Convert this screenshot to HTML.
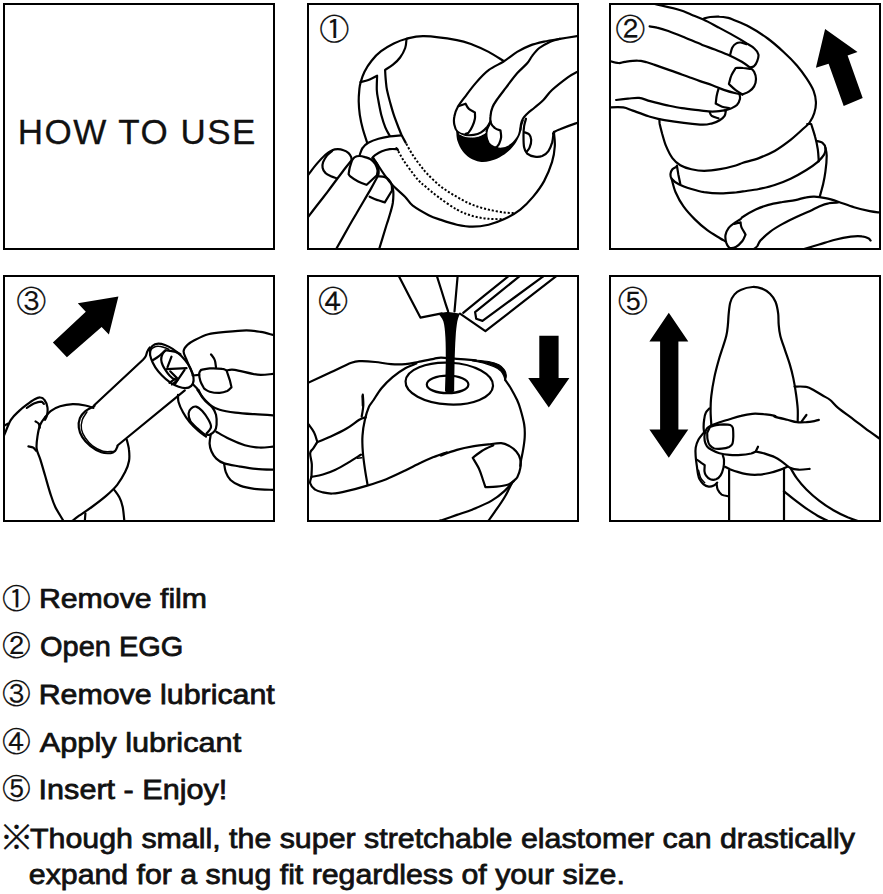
<!DOCTYPE html>
<html lang="en">
<head>
<meta charset="utf-8">
<title>HOW TO USE</title>
<style>
html,body{margin:0;padding:0;background:#fff;}
body{width:883px;height:894px;overflow:hidden;position:relative;}
svg{position:absolute;left:0;top:0;display:block;}
.t{font-family:"Liberation Sans","Noto Sans CJK JP",sans-serif;fill:#111;}
.l{font-size:28px;stroke:#111;stroke-width:0.75px;}
.n{font-family:"IPAGothic","Noto Sans CJK JP",sans-serif;fill:#111;stroke:#111;stroke-width:0.15px;}
.k{fill:none;stroke:#000;stroke-width:2.2;stroke-linecap:round;stroke-linejoin:round;}
.b{fill:#000;stroke:none;}
.d{font-size:29.7px;}
</style>
</head>
<body>
<svg width="883" height="894" viewBox="0 0 883 894">
<defs>
<clipPath id="c1"><rect x="309" y="5" width="268" height="243"/></clipPath>
<clipPath id="c2"><rect x="611" y="5" width="268" height="243"/></clipPath>
<clipPath id="c3"><rect x="5" y="277" width="268" height="243"/></clipPath>
<clipPath id="c4"><rect x="309" y="277" width="268" height="243"/></clipPath>
<clipPath id="c5"><rect x="611" y="277" width="268" height="243"/></clipPath>
</defs>
<rect width="883" height="894" fill="#fff"/>

<!-- panel 0 -->
<text class="t" x="17.8" y="143.7" font-size="35" textLength="237.6" lengthAdjust="spacing" style="stroke:#111;stroke-width:0.3px">HOW TO USE</text>

<!-- panel 1 -->
<g clip-path="url(#c1)" id="p1">
<text class="n d" x="319.4" y="40.2">①</text>
<path class="k" d="M503.6 61.0C501.1 59.5 493.7 54.6 488.6 51.9C483.4 49.2 478.0 46.8 472.7 44.8C467.4 42.8 465.0 41.5 456.9 40.1C448.7 38.6 432.3 36.3 423.9 36.1C415.5 35.9 411.5 37.5 406.5 38.8C401.5 40.0 398.0 41.5 393.8 43.5C389.6 45.6 384.8 48.3 381.1 51.2C377.4 54.0 374.4 57.2 371.6 60.7C368.8 64.1 366.3 68.1 364.5 71.8C362.6 75.5 361.4 79.8 360.5 82.9C359.6 85.9 359.6 86.9 359.3 90.0C359.0 93.1 358.6 97.2 358.7 101.3C358.8 105.5 359.2 110.4 359.8 114.9C360.5 119.4 361.4 123.9 362.7 128.5C363.9 133.1 366.4 140.3 367.2 142.7"/>
<path class="k" d="M406.5 38.8C406.3 40.3 406.3 44.9 405.2 48.0C404.1 51.1 402.2 54.7 400.1 57.5C398.1 60.3 395.5 62.6 393.0 64.6C390.5 66.7 386.4 69.0 385.1 69.9C385.2 71.8 385.5 77.9 385.9 81.3C386.2 84.6 386.3 86.7 387.0 90.0C387.7 93.3 388.7 97.2 389.8 101.3C391.0 105.5 392.3 110.4 393.8 114.9C395.3 119.4 397.6 125.1 398.9 128.5C400.2 131.9 400.6 132.9 401.7 135.3C402.9 137.7 405.0 141.4 405.7 142.7"/>
<path class="k" d="M360.5 82.1C361.8 81.7 365.6 81.1 368.4 80.0C371.2 78.9 375.7 76.4 377.1 75.7C377.1 78.1 376.6 85.7 376.8 90.0C377.0 94.3 377.8 97.2 378.5 101.3C379.3 105.5 380.2 110.6 381.3 114.9C382.5 119.3 383.9 123.9 385.3 127.4C386.7 130.9 389.1 134.5 389.8 135.9"/>
<path class="k" d="M401.2 135.3C399.3 135.5 393.6 135.9 389.8 136.4C386.1 137.0 382.1 137.7 378.5 138.7C374.9 139.7 371.0 141.2 368.3 142.7C365.7 144.2 364.1 145.8 362.7 147.8C361.2 149.7 360.3 153.4 359.8 154.6"/>
<path class="k" d="M397.2 149.1C396.0 149.1 392.4 148.8 389.8 149.1C387.3 149.5 384.4 150.2 381.9 151.2C379.4 152.2 376.7 154.0 375.1 155.1C373.5 156.3 372.7 157.5 372.3 158.0"/>
<path class="k" d="M396.4 148.1L398.0 150.2"/>
<path class="k" d="M406.3 143.8C407.3 145.6 410.3 151.2 412.5 154.6C414.7 158.0 416.8 161.0 419.3 164.2C421.7 167.4 423.6 170.1 427.2 173.8C430.8 177.5 436.1 182.8 441.0 186.6C445.9 190.5 451.6 193.9 456.9 196.9C462.1 200.0 467.4 202.7 472.7 204.9C478.0 207.0 483.3 208.3 488.6 209.6C493.9 210.9 499.9 211.9 504.4 212.5C508.9 213.1 513.7 213.0 515.5 213.1" stroke-dasharray="2.1 1.9" style="stroke-linecap:butt;stroke-width:2"/>
<path class="k" d="M398.3 151.2C399.2 152.7 401.4 157.1 403.4 160.2C405.4 163.3 407.8 166.5 410.2 169.8C412.7 173.1 415.6 177.2 418.1 180.0C420.7 182.8 422.2 183.8 425.5 186.6C428.8 189.4 433.0 193.1 438.2 196.9C443.4 200.8 451.1 206.4 456.9 209.6C462.6 212.8 467.4 214.4 472.7 216.0C478.0 217.5 483.3 218.3 488.6 218.8C493.9 219.3 501.8 219.1 504.4 219.1" stroke-dasharray="2.1 1.9" style="stroke-linecap:butt;stroke-width:2"/>
<path class="k" d="M373.0 157.7C373.7 158.8 375.6 161.6 377.5 164.4C379.4 167.3 381.8 171.2 384.3 174.6C386.7 178.0 388.7 181.1 392.2 184.8C395.7 188.5 401.6 193.3 405.0 196.7C408.4 200.2 408.9 202.6 412.8 205.7C416.8 208.7 424.0 212.8 428.7 215.2C433.4 217.5 436.3 218.3 441.0 219.9C445.7 221.5 451.6 223.5 456.9 224.7C462.1 225.8 467.4 226.7 472.7 226.7C478.0 226.7 483.3 225.9 488.6 224.7C493.9 223.4 499.1 221.6 504.4 219.1C509.7 216.6 515.5 213.3 520.3 209.6C525.0 205.9 529.0 201.7 533.0 196.9C536.9 192.2 540.9 186.9 544.1 181.1C547.2 175.3 550.2 167.9 552.0 162.1C553.8 156.2 554.5 151.2 554.8 146.2C555.2 141.2 554.0 134.3 553.9 131.9"/>
<path class="k" d="M553.1 133.6C553.4 133.3 553.5 132.5 554.6 131.8C555.8 131.0 556.4 130.7 560.0 129.3C563.6 127.8 572.6 124.4 576.4 123.1C580.1 121.7 581.6 121.5 582.7 121.1"/>
<path class="b" d="M456.2 131.1C456.4 132.8 456.4 137.8 457.5 141.1C458.5 144.4 460.4 148.3 462.5 151.1C464.5 153.9 467.0 156.2 469.9 157.9C472.8 159.7 476.6 161.1 479.9 161.7C483.2 162.2 486.5 161.8 489.9 161.0C493.2 160.3 496.7 159.0 499.8 157.3C502.9 155.6 505.9 153.6 508.6 151.1C511.2 148.6 514.1 145.3 516.0 142.4C518.0 139.4 519.3 136.5 520.4 133.6C521.4 130.7 521.5 127.4 522.3 124.9C523.0 122.4 524.3 119.7 524.7 118.7C524.2 119.3 522.5 121.0 521.6 122.4C520.8 123.9 520.5 125.1 519.8 127.4C519.0 129.7 518.7 133.4 517.3 136.1C515.8 138.8 513.3 141.7 511.0 143.6C508.8 145.5 505.9 146.7 503.6 147.3C501.2 148.0 498.2 147.5 497.1 147.6C496.4 147.4 494.4 147.5 493.0 146.7C491.6 145.9 489.7 144.7 488.6 143.0C487.5 141.2 486.7 137.9 486.4 136.1C486.0 134.4 486.4 133.2 486.4 132.6C485.3 133.2 482.4 135.1 479.9 135.9C477.4 136.6 474.1 137.2 471.2 137.1C468.3 137.0 464.9 136.3 462.5 135.3C460.0 134.3 457.3 131.8 456.2 131.1Z"/>
<path class="k" d="M583.7 35.3C582.6 35.4 581.3 35.5 577.4 36.1C573.4 36.7 565.5 37.9 559.9 38.8C554.4 39.7 549.1 40.5 544.1 41.6C539.0 42.8 534.3 43.9 529.8 45.6C525.3 47.3 521.5 49.3 517.1 51.9C512.7 54.6 508.4 58.4 503.6 61.5C498.9 64.5 493.2 66.6 488.6 70.2C483.9 73.7 479.8 78.4 475.9 82.9C471.9 87.4 467.9 93.0 464.8 97.1C461.7 101.2 459.2 104.3 457.5 107.5C455.7 110.7 454.9 113.3 454.4 116.2C453.8 119.1 453.8 122.3 454.4 124.9C454.9 127.5 455.7 130.1 457.5 131.8C459.2 133.4 462.2 134.4 464.9 134.9C467.6 135.4 471.0 135.3 473.7 134.9C476.4 134.5 478.9 133.7 481.1 132.4C483.4 131.0 485.8 128.7 487.4 126.8C488.9 124.9 490.0 122.1 490.5 121.2"/>
<path class="k" d="M459.0 106.0L465.6 103.7C466.1 104.6 467.1 107.3 468.7 108.7C470.2 110.2 473.9 111.8 474.9 112.5C474.9 113.5 475.3 116.4 474.9 118.7C474.5 121.0 473.5 123.9 472.4 126.2C471.4 128.4 469.8 131.1 468.7 132.4C467.5 133.7 466.1 133.6 465.6 133.9"/>
<path class="k" d="M559.9 38.8C558.1 39.4 552.2 40.9 548.8 42.4C545.4 44.0 542.1 45.7 539.3 48.0C536.5 50.2 534.1 53.4 532.2 55.9C530.2 58.4 529.9 60.1 527.4 63.0C524.9 65.9 520.7 69.3 517.1 73.3C513.5 77.4 509.4 83.2 506.0 87.6C502.6 92.1 499.0 96.7 496.7 100.0C494.4 103.3 493.4 104.8 492.4 107.5C491.3 110.2 490.7 113.6 490.5 116.2C490.2 118.8 490.1 121.1 490.9 123.0C491.6 125.0 493.2 126.8 494.8 128.0C496.4 129.3 499.5 130.1 500.5 130.5C500.6 131.7 501.3 135.2 501.1 137.4C500.9 139.6 499.9 142.0 499.2 143.6C498.5 145.2 497.1 146.5 496.7 147.1"/>
<path class="k" d="M490.5 122.4C489.9 123.6 487.8 127.0 487.1 129.3C486.4 131.6 486.1 133.8 486.4 136.1C486.6 138.4 487.5 141.2 488.6 143.0C489.7 144.7 491.6 145.9 493.0 146.7C494.4 147.5 496.4 147.4 497.1 147.6"/>
<path class="k" d="M583.7 67.8C582.6 68.5 580.0 70.2 577.4 71.8C574.7 73.3 572.1 74.3 567.8 77.3C563.6 80.4 556.1 86.2 552.0 90.0C547.9 93.8 546.3 97.1 543.4 100.0C540.6 102.9 537.4 105.2 534.7 107.5C532.0 109.8 529.2 111.8 527.2 113.7C525.3 115.6 523.9 116.9 522.9 118.7C521.8 120.5 521.4 122.4 521.0 124.3C520.6 126.2 520.5 129.0 520.4 129.9"/>
<path class="k" d="M526.0 118.7C525.7 119.9 524.5 123.3 524.1 126.2C523.7 129.1 523.5 132.6 523.5 136.1C523.5 139.7 523.5 144.4 524.1 147.3C524.7 150.2 525.5 152.0 527.2 153.6C529.0 155.1 532.2 156.3 534.7 156.7C537.2 157.1 539.9 157.0 542.2 156.1C544.5 155.1 546.8 153.4 548.4 151.1C550.1 148.8 551.3 145.3 552.2 142.4C553.0 139.4 553.2 135.1 553.4 133.6"/>
<path class="k" d="M524.7 132.4C525.5 132.7 528.0 133.0 529.1 134.3C530.2 135.5 531.1 137.7 531.2 139.9C531.3 142.0 530.5 145.4 529.7 147.3C529.0 149.3 527.1 151.0 526.6 151.7"/>
<path class="k" d="M459.3 133.9C460.3 134.3 462.6 135.8 464.9 136.4C467.3 136.9 471.0 137.3 473.7 137.1C476.4 136.9 479.2 135.9 481.1 135.1C483.1 134.4 484.8 133.1 485.5 132.6" style="stroke:#fff;stroke-width:0.9"/>
<path class="k" d="M302.7 182.0C303.7 180.8 306.1 177.6 308.4 174.6C310.7 171.7 313.5 167.7 316.3 164.4C319.2 161.1 322.7 157.2 325.4 154.8C328.0 152.5 330.1 151.2 332.2 150.3C334.3 149.3 336.0 149.2 337.8 149.2C339.7 149.2 341.7 149.6 343.5 150.3C345.3 150.9 347.3 152.0 348.6 153.1C349.9 154.3 350.7 155.9 351.2 157.1C351.7 158.3 351.4 159.9 351.4 160.5C350.3 161.9 346.9 166.0 344.6 169.0C342.4 171.9 340.7 174.3 337.8 178.0C335.0 181.8 331.2 186.9 327.7 191.6C324.1 196.3 319.5 202.2 316.3 206.3C313.1 210.5 310.7 213.6 308.4 216.5C306.1 219.5 303.7 222.7 302.7 223.9"/>
<path class="k" d="M336.9 178.3C336.0 177.9 333.0 177.2 331.0 176.3C329.1 175.4 326.8 174.4 325.4 172.9C324.0 171.5 322.9 169.6 322.6 167.8C322.2 166.0 322.4 164.3 323.1 162.2C323.9 160.1 325.6 157.3 327.1 155.4C328.6 153.5 331.3 151.6 332.2 150.9"/>
<path class="k" d="M352.0 160.5C352.5 159.9 353.6 157.8 354.8 157.1C356.1 156.3 357.7 156.0 359.4 156.0C361.1 156.0 363.1 156.5 365.0 157.1C366.9 157.7 369.0 158.2 370.7 159.3C372.4 160.5 374.1 162.1 375.2 163.9C376.3 165.7 377.2 168.2 377.5 170.1C377.8 172.0 377.0 174.4 376.9 175.2L366.7 184.8C365.3 184.3 361.0 182.8 358.2 181.4C355.5 180.0 351.9 177.6 350.3 176.3C348.7 175.1 348.9 174.4 348.6 174.1C348.8 173.0 349.2 170.1 349.7 167.8C350.3 165.6 351.6 161.7 352.0 160.5"/>
<path class="k" d="M372.6 158.4C373.2 159.1 375.2 160.8 376.1 162.4C377.1 164.0 377.9 166.0 378.3 167.8C378.7 169.7 378.7 172.0 378.6 173.5C378.5 175.0 377.7 176.1 377.5 176.7C376.5 178.4 374.1 183.1 371.8 187.1C369.6 191.1 366.5 196.2 363.9 200.7C361.2 205.2 358.3 210.2 356.0 214.3C353.6 218.3 353.3 218.8 349.7 225.0C346.2 231.3 337.2 247.2 334.7 251.6"/>
<path class="k" d="M378.6 176.3C379.6 176.4 382.6 176.3 384.3 176.9C386.0 177.5 387.6 178.4 388.8 179.7C390.0 181.1 391.1 183.0 391.6 184.8C392.2 186.6 391.9 189.5 392.0 190.5L384.8 202.4C383.6 202.0 380.0 201.1 377.5 200.1C374.9 199.2 370.9 197.3 369.6 196.7"/>
<path class="k" d="M392.0 184.8C392.2 186.0 393.2 188.6 393.3 191.6C393.5 194.6 393.3 199.2 392.8 203.0C392.2 206.7 391.0 210.6 389.9 214.3C388.9 218.0 388.5 218.8 386.5 225.0C384.6 231.3 379.7 247.2 378.4 251.6"/>
</g>
<!-- panel 2 -->
<g clip-path="url(#c2)" id="p2">
<text class="n d" x="615.5" y="40.1">②</text>
<path class="k" d="M647.1 2.0C648.6 2.4 651.1 3.0 656.6 4.4C662.0 5.7 673.9 8.3 679.6 10.0C685.4 11.7 687.0 12.9 691.0 14.5C694.9 16.1 698.8 17.5 703.4 19.6C708.0 21.8 713.5 24.8 718.5 27.4C723.4 30.0 728.5 32.7 733.2 35.4C737.9 38.0 743.3 41.2 746.7 43.4C750.2 45.5 752.2 46.4 754.1 48.3C756.1 50.1 757.9 52.3 758.4 54.4C758.9 56.6 757.9 59.3 757.2 61.2C756.5 63.2 755.4 65.1 754.1 66.1C752.9 67.2 750.5 67.2 749.8 67.4"/>
<path class="k" d="M704.0 18.5C705.0 18.2 707.7 17.3 710.2 17.0C712.8 16.7 716.3 16.4 719.3 16.6C722.3 16.7 725.9 17.4 728.3 17.9C730.8 18.5 730.3 18.5 733.8 20.0C737.3 21.5 743.6 23.7 749.2 26.8C754.8 29.8 761.9 34.2 767.7 38.5C773.4 42.7 778.8 47.5 783.6 52.0C788.5 56.5 793.1 61.1 796.9 65.4C800.7 69.8 803.6 73.9 806.4 78.1C809.2 82.3 812.0 86.8 813.6 90.8C815.1 94.8 815.8 98.2 815.9 101.9C816.1 105.6 815.4 109.6 814.3 113.0C813.3 116.4 811.3 120.0 809.6 122.5C807.9 125.0 807.2 125.2 804.0 128.0C800.9 130.9 795.5 136.0 790.6 139.9C785.7 143.7 780.0 147.9 774.7 151.0C769.4 154.0 764.1 156.1 758.9 158.1C753.6 160.1 746.8 161.6 743.0 162.8C739.2 164.1 739.7 164.5 735.8 165.5C732.0 166.6 725.3 168.3 720.0 169.2C714.7 170.1 708.9 170.8 704.1 170.8C699.4 170.8 695.4 170.1 691.4 169.2C687.5 168.3 683.5 167.1 680.3 165.2C677.2 163.4 674.8 161.3 672.4 158.1C670.0 154.9 667.8 150.3 666.1 146.2C664.4 142.1 663.2 137.2 662.1 133.5C661.1 129.8 660.2 126.4 659.7 124.0C659.3 121.6 659.5 120.0 659.4 119.2"/>
<path class="k" d="M649.6 26.4C650.9 26.6 653.9 26.8 657.0 27.6C660.1 28.3 663.6 29.3 668.3 31.0C673.0 32.7 679.6 35.4 685.3 37.7C691.0 40.1 697.4 42.9 702.3 44.9C707.2 46.8 710.1 47.7 714.8 49.5C719.4 51.3 725.6 53.6 730.1 55.7C734.6 57.7 738.5 59.9 741.8 61.8C745.1 63.8 748.5 66.4 749.8 67.4C750.5 68.1 753.1 69.7 754.1 71.7C755.1 73.6 756.0 76.6 756.0 79.0C756.0 81.5 755.2 84.4 754.1 86.4C753.0 88.5 751.1 90.0 749.2 91.3C747.3 92.7 743.6 93.9 742.4 94.4"/>
<path class="k" d="M730.1 55.1C730.5 53.8 731.2 49.6 732.2 47.7C733.3 45.7 734.9 44.2 736.3 43.4C737.7 42.5 738.8 42.4 740.6 42.5C742.3 42.7 745.7 43.9 746.7 44.2"/>
<path class="k" d="M750.4 68.8C749.2 68.7 745.5 68.1 743.1 68.0C740.6 67.8 736.9 68.0 735.7 68.0C735.0 69.2 732.5 72.7 731.4 75.4C730.2 78.0 729.3 82.5 728.9 84.0C730.0 85.0 733.4 88.4 735.7 90.1C737.9 91.9 741.3 93.7 742.4 94.4"/>
<path class="k" d="M607.4 60.3C609.3 60.8 615.6 62.8 618.5 63.0C621.4 63.3 621.7 62.3 624.9 61.9C628.0 61.5 633.9 60.6 637.5 60.7C641.2 60.7 643.9 61.6 646.8 62.3C649.7 63.0 651.5 63.8 654.7 64.9C657.9 66.0 662.3 67.6 666.0 68.9C669.8 70.2 673.6 71.5 677.4 72.9C681.1 74.2 684.9 75.7 688.7 77.0C692.5 78.4 696.1 79.8 700.0 81.1C704.0 82.5 708.2 83.7 712.3 85.2C716.4 86.7 720.7 88.8 724.6 90.1C728.5 91.4 732.7 92.5 735.7 93.2C738.6 93.9 741.3 94.2 742.4 94.4"/>
<path class="k" d="M739.4 93.8C739.5 94.6 740.4 96.9 740.0 98.7C739.6 100.6 738.4 103.2 736.9 104.9C735.4 106.5 732.8 107.6 730.8 108.6C728.7 109.5 725.6 110.1 724.6 110.4"/>
<path class="k" d="M718.5 88.9C718.1 90.1 717.1 93.8 716.6 96.3C716.2 98.7 715.9 102.4 715.7 103.6C716.8 104.2 719.8 105.9 722.1 106.7C724.4 107.5 728.3 108.0 729.5 108.3"/>
<path class="k" d="M616.1 100.0C618.1 99.8 624.2 99.1 628.0 98.7C631.9 98.4 635.4 97.5 639.1 97.9C642.8 98.3 645.7 99.9 650.2 101.1C654.7 102.3 660.8 103.9 666.1 105.1C671.4 106.2 676.3 107.3 681.9 108.2C687.6 109.1 694.9 109.8 700.0 110.4C705.1 111.0 708.2 111.6 712.3 111.6C716.4 111.6 722.6 110.6 724.6 110.4"/>
<path class="k" d="M709.8 112.3C710.1 112.9 710.3 114.9 711.7 115.9C713.1 117.0 717.3 118.0 718.5 118.4"/>
<path class="k" d="M725.8 111.0C725.6 111.8 725.6 114.4 724.6 115.9C723.6 117.5 721.7 119.0 719.7 120.2C717.6 121.5 715.6 122.6 712.3 123.3C709.0 124.0 708.0 125.1 700.0 124.6C692.0 124.0 673.1 121.5 664.5 120.1C655.9 118.7 653.9 117.7 648.6 116.2C643.4 114.6 637.0 112.1 632.8 110.6C628.6 109.2 627.5 108.0 623.3 107.4C619.0 106.9 610.1 107.4 607.4 107.4"/>
<path class="k" d="M676.9 165.5C677.1 167.1 677.9 171.7 678.4 174.7C679.0 177.8 680.0 182.4 680.3 183.9"/>
<path class="k" d="M676.4 166.8C675.7 167.2 673.4 168.0 672.4 169.2C671.4 170.4 670.6 172.4 670.5 173.9C670.4 175.5 670.3 177.0 671.6 178.7C673.0 180.4 675.5 182.5 678.8 184.2C682.1 186.0 687.2 187.7 691.4 189.0C695.7 190.3 699.4 191.4 704.1 192.2C708.9 192.9 714.7 193.4 720.0 193.4C725.3 193.5 732.0 192.8 735.8 192.5C739.7 192.2 739.2 192.0 743.0 191.4C746.8 190.8 753.6 190.1 758.9 189.0C764.1 187.9 769.4 186.8 774.7 185.0C780.0 183.3 785.3 181.2 790.6 178.7C795.9 176.2 801.9 172.8 806.4 170.0C810.9 167.2 814.6 164.6 817.5 162.1C820.4 159.5 822.5 157.3 823.9 154.9C825.2 152.5 825.7 149.8 825.4 147.8C825.2 145.7 823.6 143.8 822.3 142.7C821.0 141.6 818.3 141.4 817.5 141.1"/>
<path class="k" d="M807.2 124.0L811.2 124.0C811.8 126.1 814.0 132.5 815.1 136.7C816.3 140.9 817.2 145.3 817.8 149.4C818.4 153.5 818.6 159.3 818.8 161.3"/>
<path class="k" d="M671.6 178.7C672.3 180.9 673.6 187.6 675.6 192.2C677.6 196.8 680.3 202.0 683.5 206.4C686.7 210.9 690.7 215.2 694.6 219.1C698.6 223.1 703.1 227.1 707.3 230.2C711.5 233.4 717.1 236.4 720.0 238.2C722.9 240.0 723.9 240.5 724.7 241.0"/>
<path class="k" d="M825.4 147.8C825.7 149.1 826.7 151.7 826.7 155.7C826.7 159.7 826.1 166.8 825.4 171.6C824.8 176.3 824.0 180.2 823.1 184.2C822.1 188.3 820.4 194.2 819.9 196.1"/>
<path class="k" d="M879.4 212.5C877.8 212.3 874.1 212.1 869.8 211.2C865.6 210.3 859.3 208.8 854.0 207.2C848.7 205.7 842.9 203.2 838.1 201.7C833.4 200.2 829.4 199.0 825.4 198.2C821.5 197.4 817.5 196.8 814.3 196.6C811.2 196.5 809.6 196.7 806.4 197.3C803.2 197.8 799.3 199.3 795.3 200.1C791.4 200.9 787.1 201.2 782.6 202.0C778.1 202.8 772.9 203.6 768.4 204.9C763.9 206.1 759.9 207.6 755.7 209.6C751.5 211.6 745.5 215.2 743.0 216.8C740.5 218.3 742.1 218.1 740.6 219.1C739.1 220.2 736.2 221.6 734.3 223.1C732.3 224.5 730.2 225.9 728.7 227.9C727.3 229.8 725.9 232.5 725.5 235.0C725.1 237.5 725.7 240.8 726.3 242.9C727.0 245.0 727.9 247.0 729.5 247.7C731.1 248.3 733.7 247.9 735.8 246.9C738.0 245.8 740.6 243.3 742.2 241.3C743.8 239.3 744.8 236.0 745.4 235.0"/>
<path class="k" d="M734.3 223.9L740.6 222.3C740.7 223.1 740.6 225.1 741.4 227.1C742.2 229.0 744.7 233.0 745.4 234.2"/>
<path class="k" d="M838.1 202.5C836.5 202.6 831.8 202.6 828.6 203.3C825.4 203.9 822.3 205.1 819.1 206.4C815.9 207.8 813.3 209.5 809.6 211.2C805.9 212.9 801.4 214.6 796.9 216.8C792.4 218.9 787.1 221.4 782.6 223.9C778.1 226.4 773.7 229.0 770.0 231.8C766.3 234.6 762.6 238.2 760.4 240.5C758.3 242.9 758.6 244.5 757.3 246.1C755.9 247.7 753.3 249.4 752.5 250.0"/>
<path class="k" d="M803.2 249.3C805.9 248.5 813.8 246.1 819.1 244.5C824.4 242.9 829.7 241.1 835.0 239.7C840.2 238.4 846.3 237.2 850.8 236.6C855.3 236.0 859.0 236.0 861.9 236.3C864.8 236.5 866.8 237.4 868.3 238.2C869.7 238.9 870.2 240.1 870.6 240.5"/>
<path class="b" d="M825.1 29.0L857.5 51.9L847.6 55.6L862.7 97.9L843.7 105.9L828.6 63.8L815.9 67.8Z"/>
</g>
<!-- panel 3 -->
<g clip-path="url(#c3)" id="p3">
<text class="n d" x="16.4" y="311.8">③</text>
<path class="b" d="M118.4 296.5L77.8 303.3L85.8 311.7L52.9 342.5L66.9 357.2L101.6 327.1L108.9 334.6Z"/>
<path class="k" d="M45.0 417.4C45.9 416.3 48.1 412.9 50.6 411.1C53.1 409.2 56.4 407.4 60.1 406.3C63.8 405.2 68.5 404.4 72.8 404.2C77.0 404.1 82.0 404.9 85.4 405.5C88.9 406.1 92.1 407.5 93.4 407.9"/>
<path class="k" d="M126.7 439.6C127.1 441.3 128.7 446.3 129.0 449.9C129.4 453.5 129.7 457.3 129.0 461.0C128.4 464.7 127.1 468.1 125.1 472.1C123.1 476.1 120.3 480.8 117.2 484.8C114.0 488.8 110.3 492.2 106.1 495.9C101.8 499.6 96.3 503.7 91.8 507.0C87.3 510.3 82.3 513.5 79.1 515.7C75.9 518.0 74.3 519.3 72.8 520.5C71.2 521.7 70.1 522.4 69.6 522.8"/>
<path class="k" d="M45.0 417.4C44.2 418.6 41.5 421.5 40.3 424.5C39.0 427.6 38.2 431.7 37.6 435.6C37.0 439.6 36.2 444.4 36.6 448.3C37.1 452.3 38.9 454.9 40.3 459.4C41.7 463.9 43.3 469.5 45.0 475.3C46.7 481.1 48.8 489.0 50.6 494.3C52.3 499.6 53.2 502.6 55.3 507.0C57.4 511.3 61.7 517.8 63.2 520.5C64.8 523.1 64.6 522.4 64.8 522.8"/>
<path class="k" d="M1.4 442.0C1.9 440.7 3.0 437.8 4.6 434.1C6.2 430.4 8.5 423.6 10.9 419.8C13.3 416.0 16.2 413.6 18.9 411.1C21.5 408.6 24.1 406.7 26.8 404.7C29.4 402.7 32.5 400.4 34.7 399.2C37.0 397.9 38.6 397.1 40.3 397.3C41.9 397.4 43.4 398.3 44.5 400.0C45.7 401.6 47.0 404.6 47.4 407.1C47.8 409.6 47.5 412.9 47.1 415.0C46.7 417.1 45.4 419.0 45.0 419.8"/>
<path class="k" d="M26.8 407.9C28.0 407.2 31.5 404.6 33.9 403.6C36.3 402.6 39.4 401.7 41.1 401.7C42.7 401.8 43.4 403.6 43.9 403.9"/>
<path class="k" d="M35.5 421.4C36.0 421.8 38.0 422.7 38.7 423.7C39.4 424.8 39.6 427.0 39.8 427.7"/>
<path class="k" d="M28.4 446.4C29.2 446.6 31.9 446.8 33.1 447.5C34.4 448.2 35.5 450.2 36.0 450.7"/>
<path class="k" d="M3.8 425.8L7.8 423.7"/>
<path class="k" d="M94.2 405.2L143.0 359.7C143.5 359.2 145.0 357.6 145.7 356.2C146.5 354.8 146.7 352.7 147.4 351.3C148.1 349.8 149.4 348.1 149.8 347.5"/>
<path class="k" d="M117.5 445.5L184.8 390.4"/>
<path class="k" d="M94.6 405.8C93.1 406.7 87.9 409.0 85.4 411.1C83.0 413.1 81.0 415.4 79.9 418.2C78.8 421.0 78.4 424.5 78.8 427.7C79.2 430.9 80.4 434.2 82.3 437.2C84.2 440.3 87.0 443.4 90.2 445.9C93.4 448.5 97.9 451.1 101.3 452.3C104.7 453.5 108.5 453.3 110.8 453.1C113.1 452.8 114.1 451.8 115.3 450.7C116.4 449.6 117.1 447.1 117.5 446.4"/>
<path class="k" d="M87.0 411.9C86.2 413.2 83.2 416.9 82.3 419.8C81.4 422.7 81.0 426.3 81.5 429.3C82.0 432.3 83.6 435.2 85.4 438.0C87.3 440.8 89.7 443.8 92.6 445.9C95.5 448.1 99.6 450.3 102.9 451.2C106.2 452.1 110.8 451.4 112.4 451.5" style="stroke-width:1.4"/>
<path class="k" d="M114.0 489.5C114.9 490.9 118.1 494.6 119.5 497.5C121.0 500.4 121.9 503.2 122.7 507.0C123.5 510.8 124.0 517.8 124.3 520.5C124.6 523.1 124.4 522.4 124.4 522.8"/>
<path class="k" d="M85.4 513.3L84.7 522.8"/>
<ellipse class="k" cx="171.8" cy="365.9" rx="27.9" ry="13.7" transform="rotate(45.7 171.8 365.9)"/>
<path class="k" d="M150.1 355.0C150.2 354.2 150.2 351.5 150.8 350.2C151.4 348.9 152.6 347.8 153.9 347.2C155.2 346.5 156.9 346.2 158.6 346.3C160.3 346.3 162.4 347.0 164.1 347.5C165.8 348.0 168.0 348.9 168.8 349.2" style="stroke-width:1.6"/>
<path class="k" d="M152.5 360.4C153.5 359.7 156.5 358.0 158.6 356.3C160.8 354.7 164.3 351.4 165.4 350.4"/>
<path class="k" d="M180.4 354.3C179.6 353.9 177.3 352.5 175.6 351.9C173.9 351.4 171.9 351.1 170.2 350.9C168.5 350.7 166.7 350.0 165.4 350.6C164.1 351.1 163.1 352.8 162.4 354.3C161.7 355.8 161.1 357.9 161.2 359.7C161.3 361.6 162.0 363.7 162.8 365.5C163.6 367.4 164.8 369.1 166.0 370.8C167.1 372.5 168.5 374.3 169.8 375.7C171.2 377.1 172.7 378.4 173.9 379.1C175.1 379.8 176.5 379.7 177.0 379.9"/>
<path class="k" d="M171.5 356.7L167.5 367.2"/>
<path class="k" d="M166.8 369.1L186.5 368.2"/>
<path class="k" d="M170.2 371.3L177.0 378.1"/>
<path class="k" d="M184.6 369.8L174.9 384.2"/>
<path class="k" d="M169.5 382.8L174.9 378.8"/>
<path class="k" d="M171.9 384.5L177.3 380.3"/>
<path class="k" d="M192.9 374.9C192.4 373.6 191.0 370.1 189.8 367.4C188.7 364.7 187.1 361.4 186.1 358.7C185.0 356.0 183.4 353.5 183.6 351.2C183.8 348.9 185.5 346.8 187.3 345.0C189.2 343.1 191.3 341.8 194.8 340.0C198.3 338.2 203.2 335.6 208.3 334.2C213.5 332.9 219.4 332.5 225.8 331.9C232.1 331.2 240.6 330.3 246.4 330.3C252.2 330.3 256.2 331.1 260.7 331.9C265.2 332.7 270.2 334.2 273.4 335.0C276.5 335.8 278.6 336.4 279.7 336.6"/>
<path class="k" d="M211.0 354.3C211.6 355.2 213.9 357.7 214.7 359.9C215.6 362.1 215.8 366.1 216.0 367.4"/>
<path class="k" d="M201.0 369.9C202.5 369.6 206.2 368.6 209.7 368.4C213.3 368.2 219.4 368.5 222.2 368.9C225.0 369.2 225.8 370.2 226.6 370.5C227.1 372.1 228.8 377.0 229.7 379.8C230.5 382.7 231.2 386.1 231.5 387.3C230.8 387.9 229.2 390.1 227.2 391.1C225.2 392.0 222.6 392.8 219.7 392.9C216.8 393.0 212.3 392.4 209.7 391.7C207.1 391.0 205.1 389.1 204.1 388.6C203.5 387.3 201.2 383.6 200.4 381.1C199.6 378.6 199.1 375.5 199.2 373.6C199.3 371.7 200.7 370.5 201.0 369.9"/>
<path class="k" d="M226.6 370.5C227.9 370.4 229.5 369.2 234.7 369.9C239.8 370.6 251.0 374.0 257.5 374.7C263.9 375.3 269.7 374.1 273.4 373.9C277.1 373.7 278.6 373.6 279.7 373.6"/>
<path class="k" d="M192.6 375.5L199.2 374.9"/>
<path class="k" d="M192.9 384.2L197.3 388.8"/>
<path class="k" d="M198.5 389.8C199.2 391.1 200.4 394.8 202.3 397.3C204.1 399.8 206.8 402.7 209.7 404.8C212.7 406.8 215.5 408.4 219.7 409.7C224.0 411.1 229.5 411.9 235.3 412.6C241.1 413.4 248.0 413.8 254.3 414.2C260.7 414.7 269.1 415.1 273.4 415.3C277.6 415.6 278.6 415.6 279.7 415.7"/>
<path class="k" d="M178.0 394.8C178.1 396.0 177.8 399.4 178.6 402.3C179.4 405.2 181.1 408.9 183.0 412.2C184.8 415.6 187.2 419.1 189.8 422.2C192.4 425.3 195.8 428.5 198.5 430.9C201.2 433.3 204.8 435.6 206.0 436.5"/>
<path class="k" d="M197.3 389.8C198.5 391.5 202.3 396.9 204.8 399.8C207.3 402.7 210.4 404.8 212.2 407.3C214.1 409.7 215.2 411.8 216.0 414.7C216.7 417.6 216.8 422.0 216.6 424.7C216.4 427.4 215.9 429.3 214.7 430.9C213.6 432.6 211.1 434.0 209.7 434.7C208.4 435.3 207.1 434.7 206.6 434.7"/>
<path class="k" d="M204.8 434.7C203.5 433.6 199.7 430.7 197.3 428.4C194.9 426.1 191.9 423.4 190.4 421.0C189.0 418.5 188.5 415.6 188.6 413.5C188.7 411.4 189.8 409.6 191.1 408.5C192.3 407.4 194.2 406.2 196.0 406.6C197.9 407.0 200.2 408.8 202.3 411.0C204.3 413.2 207.0 417.0 208.5 419.7C210.0 422.4 211.3 424.9 211.0 427.2C210.7 429.5 207.4 432.4 206.6 433.4"/>
<path class="k" d="M216.3 431.7C218.4 432.9 224.2 436.6 229.0 438.8C233.7 441.1 239.8 443.7 244.8 445.2C249.8 446.6 254.3 447.3 259.1 447.5C263.8 447.8 269.9 446.9 273.4 446.7C276.8 446.5 278.6 446.3 279.7 446.3"/>
<path class="k" d="M210.7 434.8C210.5 436.3 209.5 440.8 209.6 443.6C209.7 446.3 210.4 449.0 211.5 451.5C212.6 454.0 214.2 456.6 216.3 458.6C218.4 460.6 220.2 462.1 224.2 463.4C228.2 464.7 234.8 465.6 240.1 466.6C245.3 467.5 250.4 468.4 255.9 468.9C261.5 469.5 269.4 469.6 273.4 469.7C277.3 469.9 278.6 469.9 279.7 469.9"/>
<path class="k" d="M224.2 464.2C224.5 465.5 224.7 469.5 225.8 472.1C226.8 474.7 228.2 477.8 230.5 480.0C232.9 482.3 236.1 484.1 240.1 485.6C244.0 487.0 248.8 488.0 254.3 488.8C259.9 489.5 269.1 489.7 273.4 489.9C277.6 490.1 278.6 490.0 279.7 490.0"/>
</g>
<!-- panel 4 -->
<g clip-path="url(#c4)" id="p4">
<text class="n d" x="318.3" y="312.1">④</text>
<path class="k" d="M397.7 274.0C397.9 274.4 395.2 269.1 399.0 276.4C402.7 283.6 416.8 310.7 420.4 317.6L441.8 313.3"/>
<path class="k" d="M436.2 274.0C436.4 274.4 435.4 271.4 437.0 276.4C438.6 281.4 443.9 298.3 445.7 304.1C447.6 309.9 447.7 310.1 448.1 311.3"/>
<path class="k" d="M458.0 274.0C457.9 274.4 458.2 270.2 457.6 276.4C457.1 282.6 455.0 305.4 454.5 311.3"/>
<path class="k" d="M460.0 313.6L485.4 331.1C497.2 322.0 543.7 285.9 555.9 276.4C568.2 266.9 558.6 274.4 559.1 274.0"/>
<path class="k" d="M463.2 312.8C470.6 306.8 499.6 283.3 507.6 276.9C515.6 270.4 510.5 274.5 511.1 274.0"/>
<path class="k" d="M522.2 274.0C521.6 274.5 526.5 270.5 518.7 276.9C510.8 283.2 482.4 306.2 475.1 312.1L476.2 318.7L482.5 320.9C492.5 313.6 531.8 284.7 542.5 276.9C553.1 269.0 545.6 274.5 546.3 274.0"/>
<path class="k" d="M303.8 385.0C304.6 384.6 304.1 384.7 308.6 382.6C313.1 380.5 323.6 375.6 330.8 372.3C337.9 369.0 346.4 364.6 351.4 362.8C356.4 360.9 356.9 361.3 360.9 361.2C364.9 361.1 370.2 361.5 375.2 362.0C380.2 362.5 386.0 363.7 391.0 364.1C396.1 364.4 400.8 364.4 405.3 364.1C409.8 363.7 413.2 362.9 418.0 362.0C422.7 361.1 430.0 359.5 433.8 358.8C437.7 358.1 437.2 357.7 441.0 357.7C444.8 357.7 451.0 358.4 456.9 358.8C462.7 359.3 472.7 360.1 475.9 360.4"/>
<path class="b" d="M472.7 359.9C475.4 360.2 484.2 360.7 488.6 361.5C492.9 362.3 496.2 363.3 498.9 364.7C501.5 366.1 503.2 368.1 504.4 369.9C505.7 371.7 506.2 373.7 506.3 375.5C506.5 377.2 505.4 379.7 505.2 380.5C504.9 379.7 504.4 377.1 503.6 375.5C502.8 373.8 502.0 372.2 500.5 370.7C498.9 369.3 496.6 367.9 494.1 366.8C491.6 365.6 489.0 364.6 485.4 363.6C481.8 362.6 474.8 361.3 472.7 360.9Z" style="stroke:#000;stroke-width:1.2;stroke-linejoin:round"/>
<path class="k" d="M505.2 379.9C506.1 381.3 508.8 384.8 510.8 388.2C512.7 391.5 515.5 396.6 517.1 400.0C518.7 403.5 519.1 404.6 520.3 408.7C521.5 412.8 523.5 419.8 524.2 424.5C525.0 429.3 524.9 433.0 524.7 437.2C524.5 441.5 523.7 446.2 523.1 449.9C522.5 453.6 521.7 456.8 521.2 459.4C520.8 462.1 520.4 464.7 520.3 465.8"/>
<path class="k" d="M416.4 363.6C414.6 364.4 409.3 366.1 405.3 368.3C401.3 370.6 396.6 373.8 392.6 377.1C388.7 380.4 384.7 384.3 381.5 388.2C378.3 392.0 375.7 396.9 373.6 400.0C371.5 403.2 370.3 403.8 368.8 407.1C367.4 410.4 365.9 415.0 364.9 419.8C363.8 424.5 362.8 430.4 362.5 435.6C362.1 440.9 362.4 445.9 362.8 451.5C363.2 457.0 364.1 463.4 364.9 468.9C365.7 474.5 367.1 482.1 367.6 484.8"/>
<ellipse class="k" cx="449.3" cy="383.6" rx="43.8" ry="20.9" transform="rotate(3 449.3 383.6)"/>
<ellipse class="k" cx="447.6" cy="384.4" rx="20.8" ry="8.8"/>
<path class="b" d="M438.1 313.6C438.6 313.6 439.5 313.4 441.0 313.2C442.5 312.9 444.2 312.0 447.3 312.1C450.5 312.1 457.9 313.4 460.0 313.6C459.6 315.0 458.1 317.6 457.3 321.6C456.6 325.5 456.0 330.8 455.6 337.4C455.1 344.0 454.9 352.2 454.6 361.2C454.4 370.2 454.2 386.3 454.2 391.3C453.3 391.6 450.8 392.9 449.2 392.9C447.7 392.9 445.7 391.6 445.0 391.3C445.1 386.3 445.7 370.2 445.8 361.2C445.8 352.2 445.8 344.0 445.4 337.4C445.0 330.8 444.6 325.5 443.4 321.6C442.2 317.6 439.0 315.0 438.1 313.6Z"/>
<path class="b" d="M539.3 335.8L558.6 335.8L558.6 377.9L569.4 377.9L548.8 407.4L528.2 377.9L539.3 377.9Z"/>
<path class="k" d="M447.0 452.3C444.8 453.1 438.1 455.3 433.8 457.0C429.5 458.8 425.9 460.3 421.2 462.6C416.4 464.8 411.1 467.7 405.3 470.5C399.5 473.3 392.6 476.7 386.3 479.2C379.9 481.7 373.9 483.6 367.2 485.6C360.6 487.6 352.5 489.8 346.6 491.1C340.8 492.5 336.3 493.3 332.4 493.5C328.4 493.7 325.8 493.1 322.9 492.4C319.9 491.7 317.0 491.1 314.9 489.5C312.8 488.0 310.8 485.3 310.2 483.2C309.6 481.1 311.2 477.9 311.4 476.9"/>
<path class="k" d="M441.0 455.5C443.6 454.5 451.6 451.4 456.9 449.9C462.1 448.4 467.4 447.3 472.7 446.4C478.0 445.5 483.8 444.9 488.6 444.4C493.3 443.8 497.8 443.0 501.2 443.2C504.7 443.5 506.7 444.6 509.2 445.9C511.7 447.3 514.5 449.2 516.3 451.5C518.2 453.7 519.6 456.6 520.3 459.4C520.9 462.2 520.8 465.2 520.3 468.1C519.8 471.0 518.6 474.6 517.4 476.9C516.2 479.1 515.3 479.2 513.1 481.6C511.0 484.0 508.0 488.0 504.4 491.1C500.9 494.3 497.0 497.6 491.7 500.6C486.5 503.7 478.5 507.0 472.7 509.4C466.9 511.7 462.1 513.1 456.9 514.9C451.6 516.8 443.8 519.5 441.0 520.5C438.2 521.4 441.4 520.1 440.2 520.5C439.0 520.9 434.9 522.4 433.8 522.8"/>
<path class="k" d="M493.3 445.2C491.5 446.1 485.7 448.6 482.2 450.7C478.8 452.8 474.3 456.6 472.7 457.8C473.8 459.7 477.3 465.2 479.1 468.9C480.8 472.6 482.0 477.0 483.0 480.0C484.1 483.1 485.0 486.0 485.4 487.2C487.2 487.1 492.8 487.1 496.5 486.7C500.2 486.3 504.7 485.7 507.6 484.8C510.4 483.9 512.6 481.9 513.6 481.3"/>
<path class="k" d="M512.3 482.4C511.0 484.9 507.3 492.6 504.4 497.5C501.5 502.4 497.5 507.9 494.9 511.7C492.3 515.6 489.9 518.6 488.6 520.5C487.2 522.3 487.2 522.4 487.0 522.8"/>
<path class="k" d="M362.8 394.7C362.9 396.5 363.5 401.9 363.3 405.5C363.1 409.2 362.0 414.8 361.7 416.6"/>
<path class="k" d="M365.7 417.4C364.6 417.8 362.5 417.9 359.3 419.8C356.2 421.6 351.4 425.7 346.6 428.5C341.9 431.3 335.7 434.2 330.8 436.4C325.9 438.7 319.6 441.1 317.3 442.0C316.8 440.4 315.6 435.4 314.1 432.5C312.7 429.6 310.0 426.4 308.6 424.5C307.1 422.7 305.9 421.9 305.4 421.4"/>
<path class="k" d="M317.3 442.0C316.6 443.0 314.5 446.5 313.3 448.3C312.2 450.2 310.4 450.4 310.2 453.1C309.9 455.7 311.5 460.2 311.8 464.2C312.0 468.1 311.5 474.7 311.4 476.9C313.3 476.5 318.8 475.7 322.9 474.5C326.9 473.3 331.3 471.7 335.5 469.7C339.8 467.7 344.0 465.1 348.2 462.6C352.5 460.1 358.8 456.0 360.9 454.7"/>
<path class="k" d="M357.4 458.2L361.7 457.8" style="stroke-width:1.4"/>
<path class="k" d="M362.5 396.1L362.8 405.6"/>
</g>
<!-- panel 5 -->
<g clip-path="url(#c5)" id="p5">
<text class="n d" x="617.9" y="311.8">⑤</text>
<path class="b" d="M668.8 312.8L688.3 341.4L678.4 341.4L678.4 429.6L688.3 429.6L668.8 457.8L649.4 429.6L660.1 429.6L660.1 341.4L649.4 341.4Z"/>
<path class="k" d="M711.3 424.3C711.2 422.2 710.6 416.0 710.6 411.3C710.6 406.6 710.6 401.7 711.3 396.0C711.9 390.3 713.2 382.9 714.4 377.1C715.6 371.3 717.1 366.0 718.4 361.2C719.7 356.4 721.0 352.7 722.4 348.5C723.7 344.3 725.4 339.8 726.3 335.8C727.3 331.9 727.5 328.4 727.9 324.7C728.3 321.0 728.3 317.3 728.7 313.6C729.1 309.9 729.4 305.7 730.3 302.5C731.2 299.4 732.5 296.7 734.3 294.6C736.0 292.5 737.6 291.1 740.6 289.9C743.6 288.6 748.9 287.2 752.5 287.0C756.1 286.8 759.1 287.5 762.0 288.6C764.9 289.7 767.7 291.6 770.0 293.8C772.2 296.0 774.1 298.4 775.5 301.7C776.9 305.0 777.7 309.8 778.2 313.6C778.7 317.5 778.3 321.0 778.7 324.7C779.0 328.4 779.2 331.6 780.3 335.8C781.3 340.1 783.4 345.3 785.0 350.1C786.6 354.9 788.4 359.6 789.8 364.4C791.2 369.1 792.4 373.6 793.4 378.6C794.5 383.7 795.4 389.5 796.1 394.5C796.8 399.5 797.4 404.2 797.7 408.7C798.0 413.2 797.7 419.3 797.7 421.4"/>
<path class="k" d="M725.1 466.8C725.9 467.2 727.6 468.2 729.6 469.1C731.7 469.9 734.7 471.1 737.6 471.9C740.4 472.8 743.2 473.7 746.6 474.2C750.0 474.7 754.2 474.9 758.0 474.7C761.7 474.6 765.5 473.9 769.3 473.0C773.1 472.2 777.5 470.7 780.6 469.6C783.7 468.6 786.5 467.1 787.6 466.6"/>
<path class="k" d="M729.1 470.2L729.1 535.9"/>
<path class="k" d="M784.0 468.5L784.0 535.9"/>
<path class="k" d="M709.3 408.5C708.7 409.2 706.7 410.7 705.9 412.5C705.0 414.3 704.5 416.8 704.2 419.3C703.8 421.7 703.6 424.9 703.6 427.2C703.6 429.4 704.1 431.9 704.2 432.8"/>
<path class="k" d="M711.3 425.5C712.5 425.0 715.3 423.7 718.3 422.7C721.4 421.6 725.9 420.4 729.6 419.3C733.4 418.1 737.2 416.8 741.0 415.9C744.7 414.9 748.5 414.1 752.3 413.8C756.1 413.5 759.8 413.8 763.6 414.2C767.4 414.5 773.1 415.4 774.9 415.9C776.8 416.3 772.6 416.0 774.7 416.6C776.8 417.3 783.7 418.9 787.4 419.8C791.1 420.7 793.7 421.8 796.9 422.2C800.1 422.6 803.8 422.3 806.4 422.2C809.1 422.0 810.7 421.8 812.8 421.4C814.8 421.0 817.8 420.0 818.8 419.8"/>
<path class="k" d="M801.7 421.4L806.4 415.0"/>
<path class="k" d="M709.8 427.2C710.9 426.8 713.7 425.6 716.0 425.1C718.4 424.7 721.6 424.4 724.0 424.3C726.3 424.3 728.7 424.3 730.2 424.9C731.7 425.5 732.3 425.9 732.8 427.7C733.3 429.6 733.3 433.6 733.3 436.2C733.2 438.9 733.2 441.8 732.5 443.6C731.8 445.4 730.9 446.1 729.1 447.0C727.3 447.8 724.2 448.5 721.7 448.7C719.3 448.9 716.3 449.0 714.3 448.5C712.4 447.9 711.0 446.8 709.8 445.3C708.7 443.8 708.0 441.7 707.6 439.6C707.1 437.6 707.3 434.0 707.2 432.8Z"/>
<path class="k" d="M711.5 425.1C710.8 425.7 708.1 426.8 707.0 428.3C705.9 429.8 705.1 431.9 704.7 434.0C704.3 436.1 704.3 438.7 704.7 440.8C705.1 442.8 705.9 444.9 707.0 446.4C708.1 447.9 709.4 448.7 711.5 449.8C713.6 451.0 716.4 452.4 719.4 453.2C722.5 454.1 726.1 454.6 729.6 454.9C733.2 455.2 737.4 455.2 741.0 454.9C744.5 454.7 748.7 454.0 751.2 453.5C753.6 452.9 754.9 451.8 755.7 451.5L758.0 446.7"/>
<path class="k" d="M755.7 451.5C757.0 451.8 760.4 452.3 763.6 453.2C766.8 454.2 771.7 455.7 774.9 457.2C778.1 458.7 780.3 460.5 782.9 462.3C785.5 464.1 788.0 466.9 790.6 468.1C793.2 469.4 795.3 469.6 798.5 469.7C801.7 469.9 807.7 469.1 809.6 468.9"/>
<path class="k" d="M790.6 468.1C791.6 469.9 794.3 474.9 796.9 478.4C799.5 482.0 802.7 485.8 806.4 489.5C810.1 493.2 814.6 497.2 819.1 500.6C823.6 504.1 828.6 507.4 833.4 510.2C838.1 512.9 843.4 515.4 847.6 517.3C851.9 519.1 855.0 520.1 858.7 521.3C862.4 522.4 868.0 523.9 869.8 524.4"/>
<path class="k" d="M783.9 491.1C785.5 492.5 790.0 496.2 793.7 499.1C797.5 502.0 802.5 505.8 806.4 508.6C810.4 511.3 813.8 513.6 817.5 515.7C821.2 517.8 825.7 519.8 828.6 521.3C831.5 522.7 833.9 523.9 835.0 524.4"/>
<path class="k" d="M794.5 386.6C796.5 386.6 803.1 386.2 806.4 386.9C809.7 387.5 811.7 389.1 814.3 390.5C817.0 391.9 819.6 393.7 822.3 395.3C824.9 396.9 827.6 397.9 830.2 400.0C832.8 402.1 834.2 404.6 838.1 407.9C842.1 411.2 848.7 415.8 854.0 419.8C859.3 423.7 865.6 428.6 869.8 431.7C874.1 434.8 876.7 436.6 879.4 438.5C882.0 440.4 884.6 442.3 885.7 443.1"/>
<path class="k" d="M703.6 432.8C702.7 434.0 699.8 437.2 698.5 439.6C697.2 442.1 696.1 444.7 695.7 447.6C695.2 450.4 695.5 453.6 695.7 456.6C695.9 459.6 696.4 462.9 696.8 465.7C697.2 468.5 697.5 471.3 697.9 473.6C698.4 475.9 698.7 477.5 699.6 479.3C700.6 481.1 702.1 483.1 703.6 484.4C705.1 485.6 707.0 486.4 708.7 486.6C710.4 486.8 712.4 486.2 713.8 485.5C715.2 484.8 716.6 483.1 717.2 482.7"/>
<path class="k" d="M697.4 460.0C698.0 460.5 700.1 462.0 701.3 462.9C702.6 463.7 704.2 464.7 704.7 465.1C704.7 466.2 704.3 469.6 704.5 471.3C704.7 473.0 704.9 474.0 705.9 475.3C706.8 476.6 708.7 478.6 710.4 479.3C712.1 479.9 714.3 479.9 716.0 479.3C717.7 478.6 719.4 477.2 720.6 475.3C721.8 473.4 722.8 470.5 723.4 468.0C724.0 465.4 724.1 462.1 724.0 460.0C723.9 457.9 723.0 456.2 722.8 455.5"/>
<path class="k" d="M698.5 470.2C698.9 471.5 699.7 476.1 700.8 478.1C701.8 480.2 704.1 481.9 704.7 482.7" style="stroke-width:1.5"/>
<path class="k" d="M716.6 483.8C716.8 484.7 716.9 487.7 717.7 489.5C718.6 491.3 719.9 493.4 721.7 494.6C723.5 495.7 727.4 496.0 728.5 496.3"/>
</g>

<!-- frames -->
<g fill="none" stroke="#000" stroke-width="2">
<rect x="4" y="4" width="270" height="245"/>
<rect x="308" y="4" width="270" height="245"/>
<rect x="610" y="4" width="270" height="245"/>
<rect x="4" y="276" width="270" height="245"/>
<rect x="308" y="276" width="270" height="245"/>
<rect x="610" y="276" width="270" height="245"/>
</g>

<!-- list -->
<text class="n" x="2.3" y="608.7" font-size="28.4">①</text><text class="t l" transform="translate(38.94 608.3) scale(1.0808 1)">Remove film</text>
<text class="n" x="2.3" y="655.9" font-size="28.4">②</text><text class="t l" transform="translate(40.07 655.5) scale(1.0341 1)">Open EGG</text>
<text class="n" x="2.3" y="704.2" font-size="28.4">③</text><text class="t l" transform="translate(38.63 703.8) scale(1.0842 1)">Remove lubricant</text>
<text class="n" x="2.3" y="751.9" font-size="28.4">④</text><text class="t l" transform="translate(39.80 751.5) scale(1.0973 1)">Apply lubricant</text>
<text class="n" x="2.3" y="799.4" font-size="28.4">⑤</text><text class="t l" transform="translate(38.62 799.0) scale(1.0923 1)">Insert - Enjoy!</text>
<text class="n" x="0.9" y="849.2" font-size="31">※</text><text class="t l" transform="translate(30.06 848) scale(1.0845 1)">Though small, the super stretchable elastomer can drastically</text>
<text class="t l" transform="translate(28.82 883.7) scale(1.0825 1)">expand for a snug fit regardless of your size.</text>
</svg>
</body>
</html>
